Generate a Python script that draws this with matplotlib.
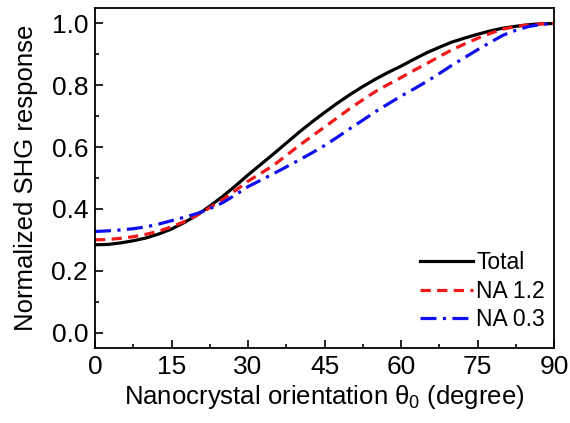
import matplotlib
matplotlib.use("Agg")
import matplotlib.pyplot as plt
from matplotlib.ticker import MultipleLocator

plt.rcParams['font.family'] = ['Liberation Sans', 'DejaVu Sans']
plt.rcParams['mathtext.fontset'] = 'custom'
plt.rcParams['mathtext.rm'] = 'Liberation Sans'
plt.rcParams['mathtext.it'] = 'Liberation Sans'

theta = [0, 2.5, 5, 7.5, 10, 12.5, 15, 17.5, 20, 22.5, 25, 27.5, 30, 32.5, 35, 37.5,
         40, 42.5, 45, 47.5, 50, 52.5, 55, 57.5, 60, 62.5, 65, 67.5, 70, 72.5, 75,
         77.5, 80, 82.5, 85, 87.5, 90]
total = [0.284, 0.285, 0.290, 0.297, 0.306, 0.319, 0.335, 0.356, 0.380, 0.409,
         0.440, 0.474, 0.510, 0.544, 0.578, 0.613, 0.648, 0.681, 0.712, 0.742,
         0.770, 0.796, 0.820, 0.842, 0.862, 0.884, 0.905, 0.923, 0.940, 0.953,
         0.965, 0.976, 0.985, 0.991, 0.996, 0.999, 1.000]
na12 = [0.300, 0.301, 0.305, 0.310, 0.318, 0.328, 0.342, 0.359, 0.380, 0.404,
        0.430, 0.459, 0.490, 0.515, 0.541, 0.573, 0.605, 0.635, 0.665, 0.695,
        0.725, 0.753, 0.780, 0.803, 0.825, 0.848, 0.870, 0.893, 0.915, 0.934,
        0.952, 0.968, 0.982, 0.990, 0.996, 0.999, 1.000]
na03 = [0.327, 0.329, 0.332, 0.336, 0.342, 0.351, 0.362, 0.373, 0.385, 0.401,
        0.420, 0.445, 0.472, 0.493, 0.514, 0.536, 0.558, 0.581, 0.605, 0.632,
        0.660, 0.687, 0.715, 0.740, 0.765, 0.788, 0.812, 0.838, 0.865, 0.890,
        0.915, 0.939, 0.962, 0.978, 0.990, 0.997, 1.000]
labels = ['Total', 'NA 1.2', 'NA 0.3']

fig = plt.figure(figsize=(5.7, 4.23), dpi=100)
ax = fig.add_axes([0.1667, 0.1773, 0.8053, 0.8037])

ax.plot(theta, total, color='black', lw=2.3, linestyle='-', label=labels[0])
ax.plot(theta, na12, color='#f01818', lw=2.3, linestyle=(0, (3.2, 2.0)), label=labels[1])
ax.plot(theta, na03, color='#1010ee', lw=2.3, linestyle=(0, (5.0, 2.0, 1.0, 2.0)), label=labels[2])

ax.set_xlim(0, 90)
ax.set_ylim(-0.05, 1.05)
ax.xaxis.set_major_locator(MultipleLocator(15))
ax.xaxis.set_minor_locator(MultipleLocator(7.5))
ax.yaxis.set_major_locator(MultipleLocator(0.2))
ax.yaxis.set_minor_locator(MultipleLocator(0.1))
ax.yaxis.set_major_formatter(plt.FuncFormatter(lambda v, p: f"{v:.1f}"))
ax.tick_params(which='both', direction='in', width=1.2, labelsize=19)
ax.tick_params(which='major', length=5.5, pad=5)
ax.tick_params(which='minor', length=3)
for s in ax.spines.values():
    s.set_linewidth(1.3)

ax.set_xlabel(r'Nanocrystal orientation $\theta_0$ (degree)', fontsize=18.5, labelpad=3)
ax.set_ylabel('Normalized SHG response', fontsize=18.5, labelpad=10)

ax.legend(loc='lower right', frameon=False, fontsize=16.5, handlelength=2.3,
          handletextpad=0.15, labelspacing=0.25, borderaxespad=0.0,
          bbox_to_anchor=(1.0, 0.022))

fig.savefig('out.png', dpi=100)
